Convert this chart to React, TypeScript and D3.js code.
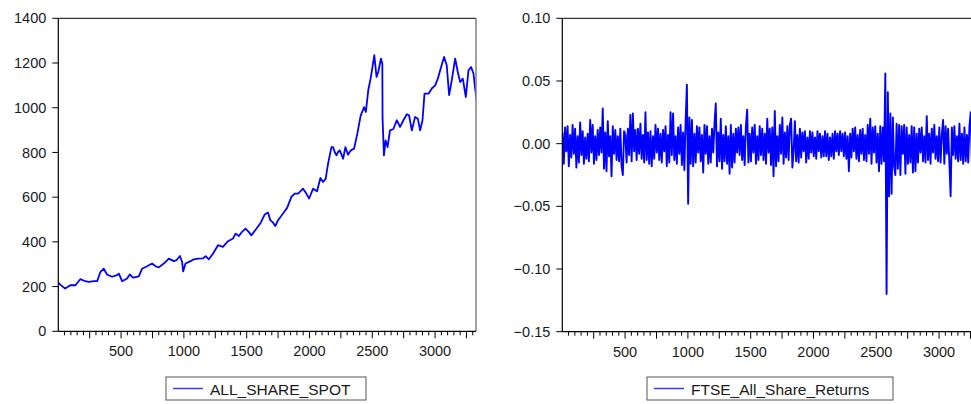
import * as d3 from 'd3';

const spotPoints: [number, number][] = [
  [1, 216], [16, 209], [54, 191], [96, 206], [136, 206], [175, 233], [215, 224], [243, 221],
  [283, 224], [309, 224], [335, 265], [362, 280], [388, 254], [428, 244], [468, 251], [482, 258],
  [508, 224], [548, 236], [569, 254], [596, 240], [641, 246], [667, 280], [707, 291], [747, 303],
  [774, 291], [800, 286], [840, 303], [880, 325], [920, 314], [941, 318], [968, 337], [986, 310],
  [994, 268], [1013, 303], [1053, 314], [1080, 322], [1112, 325], [1152, 326], [1173, 336], [1199, 322],
  [1231, 347], [1272, 385], [1311, 378], [1351, 403], [1391, 415], [1412, 437], [1438, 426], [1457, 441],
  [1491, 459], [1518, 444], [1537, 429], [1577, 459], [1608, 482], [1643, 522], [1670, 531], [1688, 497],
  [1710, 486], [1728, 471], [1750, 497], [1795, 531], [1822, 552], [1856, 601], [1882, 616], [1909, 616],
  [1949, 638], [1975, 616], [1997, 594], [2029, 638], [2060, 626], [2087, 686], [2108, 668], [2129, 683],
  [2148, 750], [2175, 824], [2188, 824], [2201, 802], [2215, 787], [2228, 802], [2241, 809], [2268, 772],
  [2286, 824], [2307, 790], [2328, 809], [2355, 817], [2381, 884], [2408, 966], [2435, 1003], [2449, 981],
  [2468, 1078], [2489, 1137], [2516, 1235], [2534, 1138], [2548, 1160], [2569, 1220], [2580, 1197], [2582, 950],
  [2593, 787], [2606, 854], [2622, 824], [2641, 899], [2668, 905], [2695, 944], [2721, 914], [2748, 944],
  [2775, 971], [2793, 966], [2815, 899], [2841, 959], [2863, 951], [2881, 899], [2900, 944], [2916, 1063],
  [2948, 1063], [2974, 1086], [3001, 1100], [3022, 1130], [3048, 1182], [3072, 1227], [3093, 1190], [3112, 1056],
  [3133, 1123], [3160, 1220], [3181, 1160], [3200, 1115], [3221, 1130], [3245, 1048], [3266, 1167], [3287, 1182],
  [3306, 1153], [3319, 1086], [3335, 1018],
];

// FTSE_All_Share_Returns, one reading every 10 observations starting at obs 2
const returnsStart = 2;
const returnsStep = 10;
const returns = [
  0.009, -0.016, 0.013, -0.006, 0.014, -0.018, 0.007, -0.011, 0.015, -0.008,
  0.012, -0.019, 0.006, -0.015, 0.017, -0.009, 0.010, -0.016, 0.005, -0.012,
  0.008, -0.014, 0.019, -0.007, 0.015, -0.016, 0.006, -0.013, 0.011, -0.009,
  0.013, -0.007, 0.028, -0.020, 0.009, -0.022, 0.018, -0.010, 0.006, -0.026,
  0.014, -0.008, 0.011, -0.013, 0.006, -0.014, 0.012, -0.018, -0.025, 0.010,
  0.007, -0.015, 0.012, -0.009, 0.023, -0.014, 0.024, -0.006, 0.011, -0.013,
  0.012, -0.008, 0.016, -0.012, 0.007, -0.015, 0.025, -0.013, 0.009, -0.016,
  0.010, -0.018, 0.006, -0.012, 0.015, -0.007, 0.012, -0.013, 0.008, -0.015,
  0.011, -0.006, 0.014, -0.018, 0.007, -0.015, 0.025, -0.009, 0.024, -0.013,
  0.006, -0.016, 0.013, -0.008, 0.015, -0.017, 0.009, -0.021, 0.018, 0.047,
  -0.048, 0.021, -0.016, 0.019, -0.018, 0.008, -0.015, 0.014, -0.007, 0.013,
  -0.014, 0.007, -0.023, 0.015, -0.008, 0.014, -0.016, 0.006, -0.015, 0.012,
  -0.007, 0.016, 0.032, -0.018, 0.009, -0.014, 0.020, -0.020, 0.007, -0.014,
  0.014, -0.016, 0.006, -0.024, 0.015, -0.019, 0.008, -0.015, 0.012, -0.007,
  0.013, -0.009, 0.015, -0.013, 0.006, -0.017, 0.014, 0.027, -0.015, 0.008,
  -0.014, 0.013, -0.007, 0.015, -0.016, 0.006, -0.013, 0.014, -0.009, 0.012,
  -0.013, 0.008, -0.016, 0.020, -0.007, 0.012, -0.017, 0.013, -0.026, 0.026,
  -0.018, 0.006, -0.014, 0.015, -0.008, 0.021, -0.016, 0.009, -0.011, 0.014,
  -0.013, 0.015, 0.020, -0.019, -0.006, 0.018, -0.014, 0.007, -0.015, 0.012,
  -0.011, 0.009, -0.006, 0.010, -0.015, 0.005, -0.012, 0.010, -0.007, 0.009,
  -0.010, 0.005, -0.012, 0.010, -0.006, 0.008, -0.011, 0.006, -0.010, 0.010,
  -0.010, 0.008, -0.013, 0.005, -0.010, 0.008, -0.012, 0.010, -0.006, 0.008,
  -0.009, 0.010, -0.006, 0.008, -0.010, 0.009, -0.012, 0.006, -0.022, 0.008,
  -0.011, 0.012, -0.006, 0.013, -0.012, 0.007, -0.014, 0.011, -0.008, 0.012,
  -0.013, 0.007, -0.014, 0.015, -0.008, 0.020, -0.016, 0.013, -0.007, 0.014,
  -0.015, 0.008, -0.022, 0.014, -0.016, 0.013, -0.014, 0.056, -0.120, 0.041,
  -0.042, 0.024, -0.040, 0.021, -0.018, -0.025, 0.016, -0.020, 0.015, -0.025,
  0.014, -0.008, 0.015, -0.024, 0.013, -0.016, 0.007, -0.015, 0.014, -0.023,
  0.013, -0.022, 0.008, -0.015, 0.012, -0.007, 0.013, -0.014, 0.006, -0.015,
  0.022, -0.013, 0.008, -0.016, 0.012, -0.007, 0.015, -0.012, 0.006, -0.014,
  0.013, -0.015, 0.007, 0.019, -0.016, 0.014, -0.008, 0.012, -0.015, -0.042,
  0.013, -0.009, 0.014, -0.012, 0.006, -0.014, 0.016, -0.013, 0.008, -0.016,
  0.013, -0.014, 0.007, -0.015, 0.014, 0.025, -0.017, 0.008, -0.012, 0.014,
  -0.015, 0.007, -0.012, 0.014,
];

const spotTicks = [0, 200, 400, 600, 800, 1000, 1200, 1400];
const returnTicks = [0.1, 0.05, 0, -0.05, -0.1, -0.15];
const obsLabels = [500, 1000, 1500, 2000, 2500, 3000];
const obsDomain: [number, number] = [0, 3326];

const FONT = '"Liberation Sans", Arial, sans-serif';
const BLUE = '#0000ff';
const TEXT = '#1a1a1a';

interface PanelProps {
  id: string;
  left: number;
  right: number;
  top: number;
  bottom: number;
  yDomain: [number, number];
  yTicks: number[];
  yFormat: (v: number) => string;
  points: [number, number][];
  strokeWidth: number;
  legend: string;
  legendX: number;
  legendW: number;
  rightEdgeColor: string;
}

function Panel(p: PanelProps) {
  const x = d3.scaleLinear().domain(obsDomain).range([p.left, p.right]);
  const y = d3.scaleLinear().domain(p.yDomain).range([p.bottom, p.top]);
  const line = d3.line<[number, number]>()
    .x(d => x(d[0]))
    .y(d => y(d[1]));

  const minor = d3.range(50, obsDomain[1], 50);

  return (
    <g>
      <defs>
        <clipPath id={`clip-${p.id}`}>
          <rect x={p.left} y={p.top - 2} width={p.right - p.left} height={p.bottom - p.top + 4} />
        </clipPath>
      </defs>
      <path d={line(p.points) || ''} fill="none" stroke={BLUE} strokeWidth={p.strokeWidth}
        strokeLinejoin="round" clipPath={`url(#clip-${p.id})`} />

      {/* frame */}
      <line x1={p.left} x2={p.right} y1={p.top} y2={p.top} stroke="#000" strokeWidth={1} />
      <line x1={p.right} x2={p.right} y1={p.top} y2={p.bottom} stroke={p.rightEdgeColor} strokeWidth={1.5} />
      <line x1={p.left} x2={p.left} y1={p.top} y2={p.bottom} stroke="#000" strokeWidth={1.2} />
      <line x1={p.left} x2={p.right} y1={p.bottom} y2={p.bottom} stroke="#000" strokeWidth={1.2} />

      {/* y axis */}
      {p.yTicks.map(t => (
        <g key={t}>
          <line x1={p.left - 6} x2={p.left} y1={y(t)} y2={y(t)} stroke="#000" />
          <text x={p.left - 12} y={y(t)} dy="0.35em" textAnchor="end"
            fontFamily={FONT} fontSize={14.5} fill={TEXT}>{p.yFormat(t)}</text>
        </g>
      ))}

      {/* x axis */}
      {minor.map(t => (
        <line key={t} x1={x(t)} x2={x(t)} y1={p.bottom} y2={p.bottom + (t % 250 === 0 ? 7 : 4)}
          stroke="#000" />
      ))}
      {obsLabels.map(t => (
        <text key={t} x={x(t)} y={p.bottom + 25} textAnchor="middle"
          fontFamily={FONT} fontSize={14.5} fill={TEXT}>{t}</text>
      ))}

      {/* legend */}
      <rect x={p.legendX} y={377} width={p.legendW} height={23} fill="#fff" stroke="#555" strokeWidth={1} />
      <line x1={p.legendX + 7} x2={p.legendX + 37} y1={388.5} y2={388.5} stroke="#3a3aff" strokeWidth={1.5} />
      <text x={p.legendX + 44} y={394.5} fontFamily={FONT} fontSize={15.5} fill={TEXT}>{p.legend}</text>
    </g>
  );
}

export default function App() {
  const returnPoints: [number, number][] = returns.map((v, k) => [returnsStart + k * returnsStep, v]);
  return (
    <svg width={971} height={404} style={{ position: 'absolute', left: 0, top: 0, background: '#fff' }}>
      <rect width={971} height={404} fill="#fff" />
      <Panel id="spot" left={58.3} right={476} top={18.3} bottom={331.3}
        yDomain={[0, 1400]} yTicks={spotTicks} yFormat={v => String(v)}
        points={spotPoints} strokeWidth={1.8}
        legend="ALL_SHARE_SPOT" legendX={166} legendW={200} rightEdgeColor="#808080" />
      <Panel id="ret" left={562.3} right={980} top={18.3} bottom={331.7}
        yDomain={[-0.15, 0.1]} yTicks={returnTicks} yFormat={d3.format('.2f')}
        points={returnPoints} strokeWidth={1.9}
        legend="FTSE_All_Share_Returns" legendX={647} legendW={246} rightEdgeColor="#000" />
    </svg>
  );
}
